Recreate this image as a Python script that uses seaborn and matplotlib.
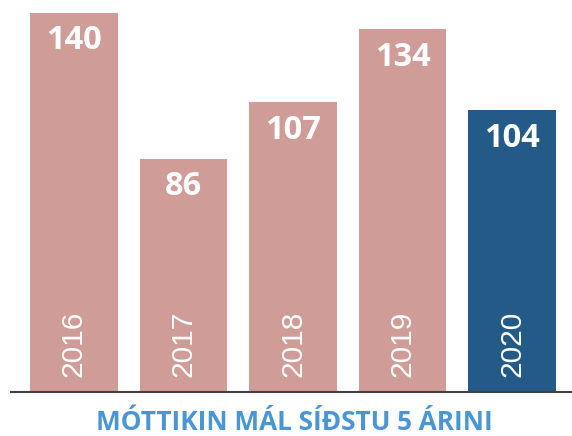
import pandas as pd
import matplotlib
matplotlib.use("Agg")
import matplotlib.pyplot as plt
import seaborn as sns

# Data
years = ["2016", "2017", "2018", "2019", "2020"]
cases = [140, 86, 107, 134, 104]
bar_colors = ["#d09c97", "#d09c97", "#d09c97", "#d09c97", "#245a87"]
title = "MÓTTIKIN MÁL SÍÐSTU 5 ÁRINI"

df = pd.DataFrame({"year": years, "cases": cases})

sns.set_theme(style="white")
plt.rcParams['font.family'] = ['Open Sans', 'DejaVu Sans']

fig = plt.figure(figsize=(5.72, 4.36), dpi=100)
ax = fig.add_axes([11 / 572, 44 / 436, 1 - 11 / 572, 392 / 436])

sns.barplot(data=df, x="year", y="cases", hue="year", palette=bar_colors,
            legend=False, width=0.8, saturation=1, linewidth=0, ax=ax)

ax.set_xlim(-0.573, 4.545)
ax.set_ylim(0, 144.8)

# Value labels inside the top of each bar, years at the bottom
for i, v in enumerate(cases):
    ax.annotate(str(v), xy=(i, v), xytext=(0, -20), textcoords="offset points",
                ha="center", va="center", color="white", fontsize=23.5,
                fontweight="bold")
    ax.annotate(years[i], xy=(i, 0), xytext=(0, 10.8), textcoords="offset points",
                ha="center", va="bottom", rotation=90, color="white",
                fontsize=21.5, family="Liberation Sans")

# Only the baseline
for s in ["top", "right", "left"]:
    ax.spines[s].set_visible(False)
ax.spines["bottom"].set_color("#404040")
ax.spines["bottom"].set_linewidth(1.5)
ax.set_xticks([])
ax.set_yticks([])
ax.set_xlabel(None)
ax.set_ylabel(None)

fig.text(294 / 572, 1 - 422 / 436, title, ha="center", va="center",
         color="#4a95d3", fontsize=18.8, fontweight="bold")

plt.savefig("out.png", dpi=100)
